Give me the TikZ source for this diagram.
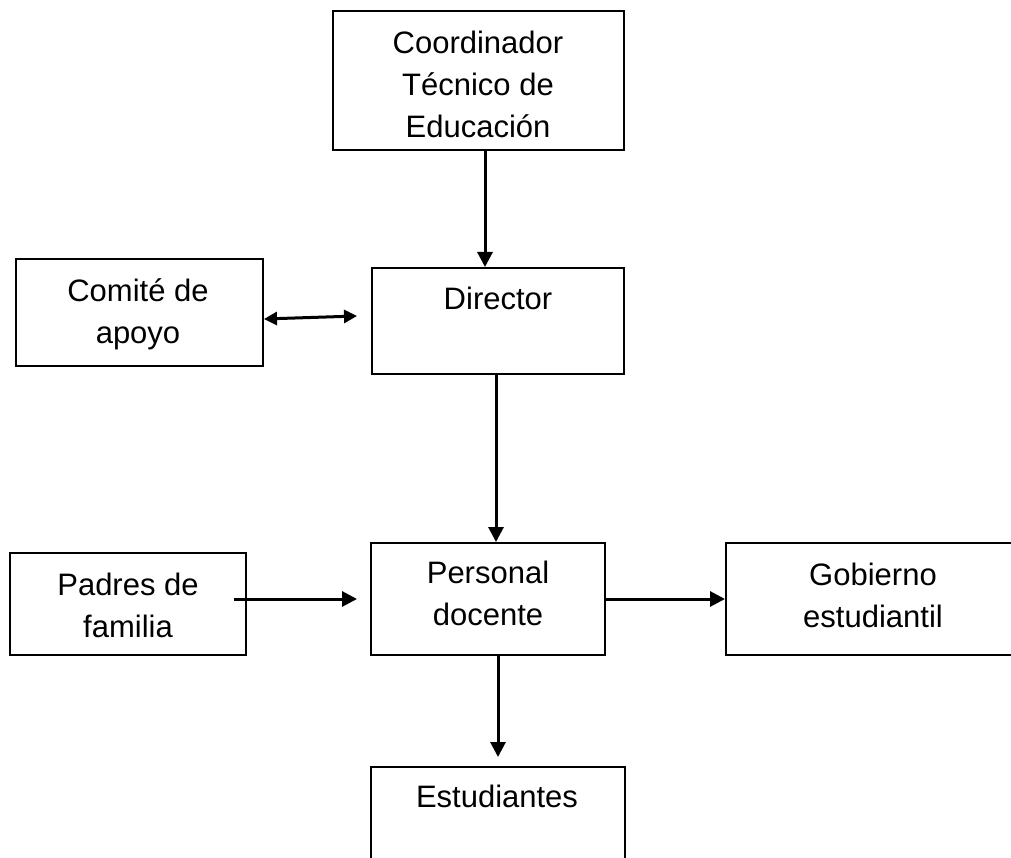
\documentclass[tikz,border=0pt]{standalone}
\usepackage{fontspec}
\setmainfont{Liberation Sans}
\usetikzlibrary{arrows.meta, calc}

\begin{document}
\begin{tikzpicture}[x=1pt, y=-1pt,
    box/.style={draw, line width=2pt, rectangle, inner sep=0pt},
    txt/.style={font=\fontsize{31}{42}\selectfont, align=center, inner sep=0pt, anchor=north},
    arr/.style={line width=3pt, -{Triangle[length=15pt,width=15pt]}},
    arrboth/.style={line width=3pt, {Triangle[length=13pt,width=13pt]}-{Triangle[length=13pt,width=13pt]}}]

    \useasboundingbox (0,0) rectangle (1011,858);
    \clip (0,0) rectangle (1011,858);

    % Boxes
    \node[box, minimum width=291pt, minimum height=139pt] (coord) at (478.5,80.5) {};
    \node[box, minimum width=252pt, minimum height=106pt] (dir) at (498,321) {};
    \node[box, minimum width=247pt, minimum height=107pt] (com) at (139.5,312.5) {};
    \node[box, minimum width=236pt, minimum height=102pt] (pad) at (128,604) {};
    \node[box, minimum width=234pt, minimum height=112pt] (pers) at (488,599) {};
    \node[box, minimum width=294pt, minimum height=112pt] (gob) at (873,599) {};
    \node[box, minimum width=254pt, minimum height=140pt] (est) at (498,837) {};

    % Texts
    \node[txt] (coordText) at (478,31) {Coordinador\\Técnico de\\Educación};
    \node[txt] (dirText) at (498,287) {Director};
    \node[txt] (comText) at (138,278) {Comité de\\apoyo};
    \node[txt] (padText) at (128,573) {Padres de\\familia};
    \node[txt] (persText) at (488,561) {Personal\\docente};
    \node[txt] (gobText) at (873,563) {Gobierno\\estudiantil};
    \node[txt] (estText) at (497,785) {Estudiantes};

    % Connectors
    \draw[arr] ($(coord.south)+(6.5,0)$) -- ($(coord.south |- dir.north)+(6.5,0)$);
    \draw[arrboth] ($(com.east)+(0,6.5)$) -- ($(dir.west)+(-14,-5)$);
    \draw[arr] ($(dir.south)+(-2,0)$) -- ($(dir.south |- pers.north)+(-2,0)$);
    \draw[arr] ($(pad.east |- pers.west)+(-13,0)$) -- ($(pers.west)+(-13,0)$);
    \draw[arr] (pers.east) -- (gob.west);
    \draw[arr] (pers.south -| est.north) -- ($(est.north)+(0,-9)$);
\end{tikzpicture}
\end{document}
